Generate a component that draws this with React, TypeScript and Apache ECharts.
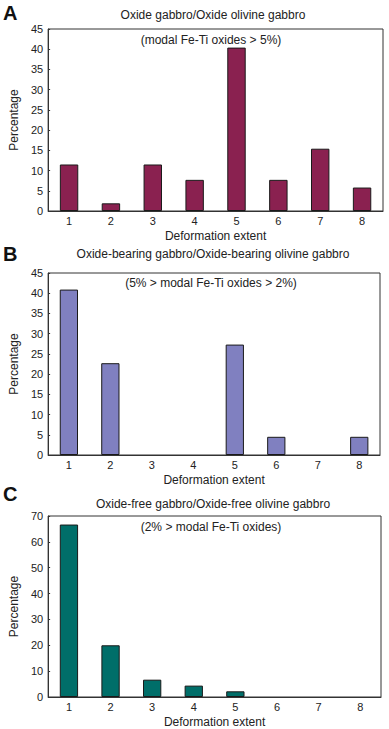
import React, { useEffect, useRef } from "react";
import * as echarts from "echarts";

const categories = ["1", "2", "3", "4", "5", "6", "7", "8"];
const valuesA = [11.5, 1.9, 11.5, 7.7, 40.4, 7.7, 15.4, 5.8];
const valuesB = [40.9, 22.7, 0, 0, 27.3, 4.5, 0, 4.5];
const valuesC = [66.7, 20.0, 6.7, 4.4, 2.2, 0, 0, 0];
const titles = [
  "Oxide gabbro/Oxide olivine gabbro",
  "Oxide-bearing gabbro/Oxide-bearing olivine gabbro",
  "Oxide-free gabbro/Oxide-free olivine gabbro",
];
const subtitles = [
  "(modal Fe-Ti oxides > 5%)",
  "(5% > modal Fe-Ti oxides > 2%)",
  "(2% > modal Fe-Ti oxides)",
];
const letters = ["A", "B", "C"];
const yMax = [45, 45, 70];
const yInterval = [5, 5, 10];
const colors = ["#8a2150", "#8080c0", "#006e69"];
const seriesValues = [valuesA, valuesB, valuesC];

const FONT = "Liberation Sans, Arial, Helvetica, sans-serif";

export default function App() {
  const ref = useRef<HTMLDivElement>(null);
  useEffect(() => {
    if (!ref.current) return;
    const chart = echarts.init(ref.current, null, { renderer: "svg" });
    const grids = [
      { left: 39, top: 29, width: 344, height: 182 },
      { left: 39, top: 273, width: 341, height: 182 },
      { left: 40, top: 516, width: 341, height: 185 },
    ];
    const letterY = [12, 253, 493];
    const titleY = [15, 254, 504];
    const subY = [40, 283, 527];
    const textColor = "#222";
    const option: any = {
      animation: false,
      backgroundColor: "#fff",
      textStyle: { fontFamily: FONT },
      grid: grids.map((g) => ({
        ...g,
        show: true,
        borderColor: "#333",
        borderWidth: 1,
        backgroundColor: "transparent",
      })),
      xAxis: grids.map((_, i) => ({
        type: "category",
        gridIndex: i,
        data: categories,
        boundaryGap: true,
        name: "Deformation extent",
        nameLocation: "middle",
        nameGap: 19,
        nameTextStyle: { fontSize: 12, color: textColor, fontFamily: FONT },
        axisLine: { lineStyle: { color: "#333", width: 1 } },
        axisTick: { inside: true, length: 3, interval: 0, lineStyle: { color: "#333" } },
        axisLabel: { fontSize: 11, color: textColor, margin: 4, fontFamily: FONT },
        splitLine: { show: false },
      })),
      yAxis: grids.map((_, i) => ({
        type: "value",
        gridIndex: i,
        min: 0,
        max: yMax[i],
        interval: yInterval[i],
        name: "Percentage",
        nameLocation: "middle",
        nameGap: 25,
        nameRotate: 90,
        nameTextStyle: { fontSize: 12, color: textColor, fontFamily: FONT },
        axisLine: { show: true, lineStyle: { color: "#333", width: 1 } },
        axisTick: { show: true, inside: true, length: 2, lineStyle: { color: "#333" } },
        axisLabel: { fontSize: 11, color: textColor, margin: 5, fontFamily: FONT },
        splitLine: { show: false },
      })),
      series: seriesValues.map((vals, i) => ({
        type: "bar",
        xAxisIndex: i,
        yAxisIndex: i,
        data: vals.map((v) =>
          v === 0 ? { value: v, itemStyle: { borderWidth: 0, opacity: 0 } } : v
        ),
        barWidth: "44%",
        itemStyle: { color: colors[i], borderColor: "#1a1a1a", borderWidth: 1 },
      })),
      graphic: [
        ...letters.map((l, i) => ({
          type: "text",
          left: 3,
          top: letterY[i] - 9,
          style: { text: l, font: `bold 20px ${FONT}`, fill: "#111" },
        })),
        ...titles.map((t, i) => ({
          type: "text",
          x: 213,
          y: titleY[i],
          style: {
            text: t,
            font: `12px ${FONT}`,
            fill: textColor,
            textAlign: "center",
            textVerticalAlign: "middle",
          },
        })),
        ...subtitles.map((t, i) => ({
          type: "text",
          x: 211,
          y: subY[i],
          style: {
            text: t,
            font: `12px ${FONT}`,
            fill: textColor,
            textAlign: "center",
            textVerticalAlign: "middle",
          },
        })),
      ],
    };
    chart.setOption(option);
    return () => chart.dispose();
  }, []);
  return (
    <div
      ref={ref}
      style={{ position: "absolute", left: 0, top: 0, width: 389, height: 729 }}
    />
  );
}
